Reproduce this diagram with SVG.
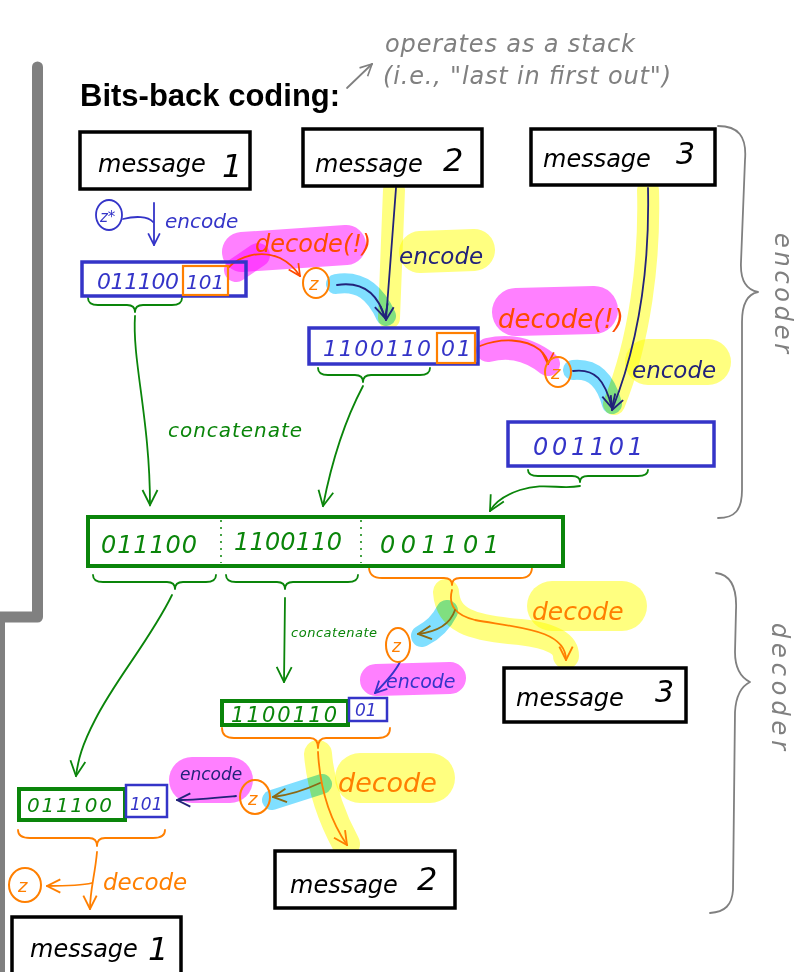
<svg xmlns="http://www.w3.org/2000/svg" width="806" height="972" viewBox="0 0 806 972">
<style>
.hw{font-family:"DejaVu Sans","Liberation Sans",sans-serif;font-style:italic}
.title{font-family:"Liberation Sans",Arial,sans-serif;font-weight:bold;font-size:31px;fill:#000}
.msg{fill:#fff;stroke:#000;stroke-width:3.5}
.bbox{fill:none;stroke:#3434c8;stroke-width:3.5}
.gbox{fill:none;stroke:#0a850a;stroke-width:4}
.obox{fill:none;stroke:#ff7f00;stroke-width:2.2}
.zc{fill:none;stroke:#ff7f00;stroke-width:2}
.hl{fill:none;stroke-linecap:round;stroke-linejoin:round;mix-blend-mode:multiply}
.y{stroke:#ffff80}.p{stroke:#ff80ff}.c{stroke:#80dfff}
.ln{fill:none;stroke-width:1.8;stroke-linecap:round;stroke-linejoin:round}
.navy{stroke:#22227a}.blue{stroke:#3434c8}.org{stroke:#ff7f00}.red{stroke:#ff4a00}.grn{stroke:#0a850a}.olv{stroke:#8b6914}.gry{stroke:#808080}
.tnavy{fill:#22227a}.tblue{fill:#3434c8}.torg{fill:#ff7f00}.tred{fill:#ff4a00}.tgrn{fill:#0a850a}.tgry{fill:#808080}.tblk{fill:#000}
</style>
<defs>
<marker id="a-navy" viewBox="0 0 12 12" refX="11" refY="6" markerWidth="16" markerHeight="16" markerUnits="userSpaceOnUse" orient="auto"><path d="M1,1 L11,6 L1,11" fill="none" stroke="#22227a" stroke-width="1.4"/></marker>
<marker id="a-blue" viewBox="0 0 12 12" refX="11" refY="6" markerWidth="14" markerHeight="14" markerUnits="userSpaceOnUse" orient="auto"><path d="M1,1 L11,6 L1,11" fill="none" stroke="#3434c8" stroke-width="1.5"/></marker>
<marker id="a-org" viewBox="0 0 12 12" refX="11" refY="6" markerWidth="16" markerHeight="16" markerUnits="userSpaceOnUse" orient="auto"><path d="M1,1 L11,6 L1,11" fill="none" stroke="#ff7f00" stroke-width="1.4"/></marker>
<marker id="a-red" viewBox="0 0 12 12" refX="11" refY="6" markerWidth="14" markerHeight="14" markerUnits="userSpaceOnUse" orient="auto"><path d="M1,1 L11,6 L1,11" fill="none" stroke="#ff4a00" stroke-width="1.5"/></marker>
<marker id="a-grn" viewBox="0 0 12 12" refX="11" refY="6" markerWidth="18" markerHeight="18" markerUnits="userSpaceOnUse" orient="auto"><path d="M1,1 L11,6 L1,11" fill="none" stroke="#0a850a" stroke-width="1.2"/></marker>
<marker id="a-olv" viewBox="0 0 12 12" refX="11" refY="6" markerWidth="16" markerHeight="16" markerUnits="userSpaceOnUse" orient="auto"><path d="M1,1 L11,6 L1,11" fill="none" stroke="#8b6914" stroke-width="1.4"/></marker>
<marker id="a-gry" viewBox="0 0 12 12" refX="11" refY="6" markerWidth="14" markerHeight="14" markerUnits="userSpaceOnUse" orient="auto"><path d="M1,1 L11,6 L1,11" fill="none" stroke="#808080" stroke-width="1.4"/></marker>
</defs>
<rect width="806" height="972" fill="#fff"/>
<path d="M37.5,67 V617 H0" fill="none" stroke="#808080" stroke-width="11" stroke-linecap="round" stroke-linejoin="round"/>
<rect x="0" y="617" width="5" height="355" fill="#808080"/>
<text class="title" x="80" y="106">Bits-back coding:</text>
<g id="note">
<text class="hw tgry" x="385" y="52" font-size="24" textLength="250">operates as a stack</text>
<text class="hw tgry" x="383" y="84" font-size="24" textLength="288">(i.e., "last in first out")</text>
</g>
<g id="highlights">
<path class="hl p" d="M242,252 L346,245" stroke-width="40"/>
<path class="hl p" d="M236,270 L258,255" stroke-width="24"/>
<path class="hl y" d="M394,190 L389,318" stroke-width="22"/>
<path class="hl y" d="M420,252 L474,250" stroke-width="42"/>
<path class="hl c" d="M336,284 C360,280 375,292 386,316" stroke-width="20"/>
<path class="hl p" d="M516,312 L594,310" stroke-width="48"/>
<path class="hl p" d="M488,350 C505,346 525,346 548,364" stroke-width="24"/>
<path class="hl y" d="M648,190 C650,260 640,340 614,404" stroke-width="22"/>
<path class="hl y" d="M648,362 L708,362" stroke-width="46"/>
<path class="hl c" d="M573,370 C595,368 606,382 612,404" stroke-width="20"/>
<path class="hl y" d="M446,592 C448,620 470,628 520,632 C555,636 566,645 566,656" stroke-width="26"/>
<path class="hl y" d="M552,606 L622,606" stroke-width="50"/>
<path class="hl c" d="M447,611 C440,625 430,632 422,636" stroke-width="22"/>
<path class="hl p" d="M376,680 L450,678" stroke-width="32"/>
<path class="hl y" d="M318,754 C321,790 333,820 346,844" stroke-width="28"/>
<path class="hl y" d="M360,778 L430,778" stroke-width="50"/>
<path class="hl c" d="M272,800 L322,784" stroke-width="20"/>
<path class="hl p" d="M192,780 L230,780" stroke-width="46"/>
</g>
<g id="encoder">
<path class="ln gry" d="M718,126 C738,126 747,136 745,160 L741,262 C740,282 748,290 758,292 C748,294 742,302 742,322 L742,490 C742,510 735,518 718,518"/>
<text class="hw tgry" transform="translate(775,233) rotate(90)" font-size="24" textLength="120">encoder</text>
</g>
<g id="decoder">
<path class="ln gry" d="M716,573 C732,575 737,590 736,610 L735,652 C735,670 742,678 750,682 C742,686 736,694 735,712 L733,890 C732,905 725,912 710,913"/>
<text class="hw tgry" transform="translate(772,623) rotate(90)" font-size="24" textLength="127">decoder</text>
</g>
<g id="connectors">
<path class="ln gry" d="M347,88 L372,64" marker-end="url(#a-gry)"/>
<path class="ln blue" d="M123,219 C135,216 148,216 153,222"/>
<path class="ln blue" d="M154,203 L154,245" marker-end="url(#a-blue)"/>
<path class="ln red" d="M228,268 C240,255 262,250 280,258 C290,263 296,270 300,276" marker-end="url(#a-red)"/>
<path class="ln navy" d="M337,285 C363,281 378,294 385,318" marker-end="url(#a-navy)"/>
<path class="ln navy" d="M396,188 L386,320" marker-end="url(#a-navy)"/>
<path class="ln red" d="M480,346 C500,338 525,338 540,350 C546,356 548,360 548,364" marker-end="url(#a-red)"/>
<path class="ln navy" d="M573,371 C595,368 605,380 612,408" marker-end="url(#a-navy)"/>
<path class="ln navy" d="M648,188 C650,280 636,350 612,410" marker-end="url(#a-navy)"/>
<path class="ln grn" d="M88,298 Q88,305 98,305 L127,305 Q135,305 135,312 Q135,305 143,305 L172,305 Q182,305 182,298"/>
<path class="ln grn" d="M318,368 Q318,375 328,375 L355,375 Q363,375 363,382 Q363,375 371,375 L420,375 Q430,375 430,368"/>
<path class="ln grn" d="M528,470 Q528,476 538,476 L572,476 Q580,476 580,482 Q580,476 588,476 L638,476 Q648,476 648,470"/>
<path class="ln grn" d="M135,316 C132,360 150,420 150,505" marker-end="url(#a-grn)"/>
<path class="ln grn" d="M363,386 C345,420 332,460 323,506" marker-end="url(#a-grn)"/>
<path class="ln grn" d="M580,486 C560,490 545,482 520,490 C505,495 495,502 490,511" marker-end="url(#a-grn)"/>
<path class="ln grn" d="M93,575 Q93,582 103,582 L167,582 Q175,582 175,589 Q175,582 183,582 L206,582 Q216,582 216,575"/>
<path class="ln grn" d="M226,575 Q226,582 236,582 L277,582 Q285,582 285,589 Q285,582 293,582 L348,582 Q358,582 358,575"/>
<path class="ln org" d="M369,567 Q369,578 382,578 L444,578 Q452,578 452,585 Q452,578 460,578 L520,578 Q532,578 532,567"/>
<path class="ln grn" d="M172,595 C150,640 115,680 95,720 C82,745 78,760 76,776" marker-end="url(#a-grn)"/>
<path class="ln grn" d="M285,598 L284,682" marker-end="url(#a-grn)"/>
<path class="ln org" d="M452,590 C448,605 455,615 475,620 C520,628 566,630 566,660" marker-end="url(#a-org)"/>
<path class="ln olv" d="M455,610 C450,625 435,632 418,634" marker-end="url(#a-olv)"/>
<path class="ln blue" d="M400,662 C395,672 385,683 375,693" marker-end="url(#a-blue)"/>
<path class="ln org" d="M222,728 Q222,738 234,738 L310,738 Q318,738 318,748 Q318,738 326,738 L378,738 Q390,738 390,728"/>
<path class="ln org" d="M318,752 C320,790 330,820 347,845" marker-end="url(#a-org)"/>
<path class="ln olv" d="M320,783 C305,790 290,795 273,797" marker-end="url(#a-olv)"/>
<path class="ln navy" d="M236,796 C215,798 195,800 177,800" marker-end="url(#a-navy)"/>
<path class="ln org" d="M18,830 Q18,838 30,838 L89,838 Q97,838 97,846 Q97,838 105,838 L153,838 Q165,838 165,830"/>
<path class="ln org" d="M97,852 C95,875 90,890 90,909" marker-end="url(#a-org)"/>
<path class="ln org" d="M92,883 C80,886 65,886 47,886" marker-end="url(#a-org)"/>
</g>
<g id="msg1"><rect class="msg" x="80" y="132" width="170" height="57"/><text class="hw tblk" x="98" y="172" font-size="24">message</text><text class="hw tblk" x="222" y="177" font-size="32">1</text></g>
<g id="msg2"><rect class="msg" x="303" y="129" width="179" height="57"/><text class="hw tblk" x="315" y="172" font-size="24">message</text><text class="hw tblk" x="443" y="171" font-size="32">2</text></g>
<g id="msg3"><rect class="msg" x="531" y="129" width="184" height="56"/><text class="hw tblk" x="543" y="167" font-size="24">message</text><text class="hw tblk" x="676" y="164" font-size="30">3</text></g>
<g id="zstar"><ellipse cx="109" cy="215" rx="13" ry="15" fill="none" stroke="#3434c8" stroke-width="1.8"/><text class="hw tblue" x="100" y="222" font-size="15">z*</text><text class="hw tblue" x="165" y="228" font-size="20">encode</text></g>
<g id="bits1"><rect class="bbox" x="82" y="262" width="164" height="34"/><rect class="obox" x="183" y="266" width="45" height="29"/><text class="hw tblue" x="97" y="289" font-size="22" textLength="82">011100</text><text class="hw tblue" x="186" y="289" font-size="20">101</text></g>
<g id="dec1"><text class="hw tred" x="255" y="252" font-size="24">decode(!)</text></g>
<g id="z1"><ellipse class="zc" cx="316" cy="283" rx="13" ry="15"/><text class="hw torg" x="309" y="290" font-size="18">z</text></g>
<g id="enc1"><text class="hw tnavy" x="399" y="264" font-size="23">encode</text></g>
<g id="bits2"><rect class="bbox" x="309" y="328" width="169" height="36"/><rect class="obox" x="437" y="333" width="38" height="30"/><text class="hw tblue" x="323" y="356" font-size="22" textLength="108">1100110</text><text class="hw tblue" x="441" y="356" font-size="22" textLength="30">01</text></g>
<g id="dec2"><text class="hw tred" x="498" y="328" font-size="26">decode(!)</text></g>
<g id="z2"><ellipse class="zc" cx="558" cy="372" rx="13" ry="15"/><text class="hw torg" x="551" y="379" font-size="18">z</text></g>
<g id="enc2"><text class="hw tnavy" x="632" y="378" font-size="23">encode</text></g>
<g id="bits3"><rect class="bbox" x="508" y="422" width="206" height="44"/><text class="hw tblue" x="533" y="455" font-size="24" textLength="110">001101</text></g>
<g id="concat"><text class="hw tgrn" x="168" y="437" font-size="20" textLength="134">concatenate</text></g>
<g id="stream"><rect class="gbox" x="88" y="517" width="475" height="49"/>
<line x1="221" y1="520" x2="221" y2="563" stroke="#0a850a" stroke-width="1.5" stroke-dasharray="2 5"/>
<line x1="361" y1="520" x2="361" y2="563" stroke="#0a850a" stroke-width="1.5" stroke-dasharray="2 5"/>
<text class="hw tgrn" x="101" y="553" font-size="24" textLength="96">011100</text>
<text class="hw tgrn" x="234" y="550" font-size="24" textLength="108">1100110</text>
<text class="hw tgrn" x="380" y="553" font-size="24" textLength="119">001101</text></g>
<g id="concat2"><text class="hw tgrn" x="291" y="637" font-size="13" textLength="86">concatenate</text></g>
<g id="ddec1"><text class="hw torg" x="532" y="620" font-size="25">decode</text></g>
<g id="dz1"><ellipse class="zc" cx="398" cy="645" rx="12" ry="17"/><text class="hw torg" x="392" y="652" font-size="17">z</text></g>
<g id="denc1"><text class="hw tblue" x="386" y="688" font-size="19">encode</text></g>
<g id="dmsg3"><rect class="msg" x="504" y="668" width="182" height="54"/><text class="hw tblk" x="516" y="706" font-size="24">message</text><text class="hw tblk" x="655" y="702" font-size="30">3</text></g>
<g id="dbits2"><rect class="gbox" x="222" y="701" width="126" height="24" stroke-width="2.5"/><rect x="349" y="698" width="38" height="23" fill="none" stroke="#3434c8" stroke-width="2.5"/><text class="hw tgrn" x="231" y="722" font-size="21" textLength="106">1100110</text><text class="hw tblue" x="355" y="716" font-size="17">01</text></g>
<g id="ddec2"><text class="hw torg" x="338" y="792" font-size="27">decode</text></g>
<g id="dz2"><ellipse class="zc" cx="255" cy="797" rx="15" ry="17"/><text class="hw torg" x="248" y="805" font-size="18">z</text></g>
<g id="denc2"><text class="hw tnavy" x="180" y="780" font-size="17">encode</text></g>
<g id="dmsg2"><rect class="msg" x="275" y="851" width="180" height="57"/><text class="hw tblk" x="290" y="893" font-size="24">message</text><text class="hw tblk" x="417" y="890" font-size="32">2</text></g>
<g id="dbits1"><rect class="gbox" x="19" y="789" width="106" height="31" stroke-width="2.5"/><rect x="126" y="785" width="41" height="32" fill="none" stroke="#3434c8" stroke-width="2.5"/><text class="hw tgrn" x="27" y="812" font-size="20" textLength="85">011100</text><text class="hw tblue" x="130" y="810" font-size="17">101</text></g>
<g id="dz3"><ellipse class="zc" cx="25" cy="885" rx="16" ry="17"/><text class="hw torg" x="18" y="892" font-size="18">z</text></g>
<g id="ddec3"><text class="hw torg" x="103" y="890" font-size="23">decode</text></g>
<g id="dmsg1"><rect class="msg" x="12" y="917" width="169" height="70"/><text class="hw tblk" x="30" y="957" font-size="24">message</text><text class="hw tblk" x="148" y="960" font-size="32">1</text></g>
</svg>
